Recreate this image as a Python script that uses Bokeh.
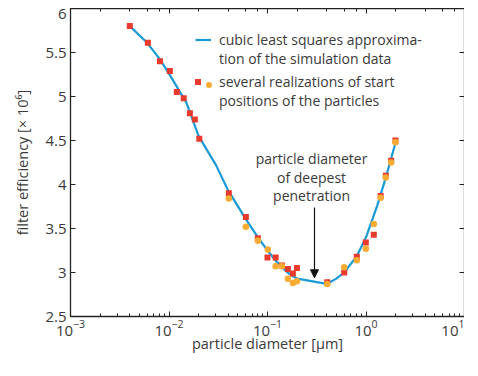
from bokeh.plotting import figure
from bokeh.models import (LogAxis, LinearAxis, Legend, LegendItem, Label, Arrow,
                          NormalHead, Range1d, SingleIntervalTicker, CustomJSTickFormatter,
                          CustomLabelingPolicy)
from bokeh.embed import file_html
from bokeh.resources import INLINE

# ---- data ----
fit_x = [0.004, 0.006, 0.008, 0.01, 0.015, 0.02, 0.03, 0.04, 0.06, 0.08, 0.1, 0.12,
         0.14, 0.16, 0.18, 0.2, 0.4, 0.5, 0.6, 0.8, 1.0, 1.3, 1.6, 2.0]
fit_y = [5.80, 5.61, 5.43, 5.26, 4.93, 4.55, 4.22, 3.93, 3.61, 3.40, 3.25, 3.14,
         3.06, 3.00, 2.96, 2.93, 2.87, 2.93, 3.00, 3.18, 3.40, 3.76, 4.09, 4.48]

sq_x = [0.0040, 0.0061, 0.0081, 0.0102, 0.0120, 0.0141, 0.0163, 0.0183, 0.0203,
        0.0405, 0.0603, 0.0798, 0.100, 0.121, 0.140, 0.161, 0.181, 0.199,
        0.404, 0.601, 0.807, 0.996, 1.20, 1.41, 1.59, 1.80, 1.99]
sq_y = [5.80, 5.61, 5.40, 5.29, 5.05, 4.98, 4.81, 4.74, 4.52,
        3.90, 3.63, 3.39, 3.17, 3.17, 3.08, 3.04, 2.99, 3.05,
        2.89, 3.00, 3.18, 3.34, 3.43, 3.87, 4.10, 4.27, 4.50]

ci_x = [0.0405, 0.0603, 0.0798, 0.1007, 0.121, 0.140, 0.161, 0.181, 0.199,
        0.404, 0.601, 0.807, 0.996, 1.20, 1.41, 1.59, 1.80, 1.99]
ci_y = [3.84, 3.52, 3.36, 3.26, 3.07, 3.07, 2.93, 2.88, 2.90,
        2.87, 3.06, 3.14, 3.27, 3.55, 3.85, 4.08, 4.25, 4.48]

x_label = "particle diameter [μm]"
y_label = "filter efficiency [× 10⁶]"
fit_label = ["cubic least squares approxima-", "tion of the simulation data"]
pts_label = ["several realizations of start", "positions of the particles"]
note_text = "particle diameter\nof deepest\npenetration"

BLUE = "#1a9ad6"
RED = "#ea3a2e"
ORANGE = "#f9ab33"
TXT = "#3a3a3a"
FONT = "Open Sans"

FH = 308
p = figure(x_axis_type="log", x_range=Range1d(1e-3, 10), y_range=Range1d(2.5, 6),
           frame_width=394, frame_height=FH, output_backend="svg",
           toolbar_location=None, min_border=0)
p.margin = (8, 0, 0, 10)
p.grid.visible = False
p.outline_line_color = None
p.background_fill_color = "white"

line_r = p.line(fit_x, fit_y, line_color=BLUE, line_width=2.2)
sq_r = p.scatter(sq_x, sq_y, marker="square", size=6, fill_color=RED, line_color=None)
ci_r = p.scatter(ci_x, ci_y, marker="circle", size=6.5, fill_color=ORANGE, line_color=None)
# invisible renderer used only for continuation lines in the legends
blank_r = p.line([], [], line_alpha=0)

blank_fmt = CustomJSTickFormatter(code="return ''")
no_labels = CustomLabelingPolicy(code="return new Set()")

def style(ax, labels=True):
    ax.axis_line_color = "#222222"
    ax.axis_line_width = 1.3
    ax.major_tick_line_color = "#222222"
    ax.minor_tick_line_color = "#222222"
    ax.major_tick_in = 5
    ax.major_tick_out = 0
    ax.minor_tick_in = 3
    ax.minor_tick_out = 0
    ax.major_label_text_font = FONT
    ax.major_label_text_color = TXT
    ax.major_label_text_font_size = "15px"
    ax.major_label_standoff = 4
    if not labels:
        ax.formatter = blank_fmt
        ax.major_label_policy = no_labels
        ax.major_label_text_color = None
        ax.major_label_text_font_size = "1px"
        ax.major_label_standoff = 0
    ax.axis_label_text_font = FONT
    ax.axis_label_text_font_style = "normal"
    ax.axis_label_text_font_size = "14.5px"
    ax.axis_label_text_color = TXT

yfmt = CustomJSTickFormatter(code="return tick.toString()")

xa = p.xaxis[0]
style(xa)
xa.axis_label = x_label
xa.major_label_standoff = 3
xa.axis_label_standoff = -5

ya = p.yaxis[0]
style(ya)
ya.ticker = SingleIntervalTicker(interval=0.5, num_minor_ticks=0)
ya.formatter = yfmt
ya.axis_label = y_label
ya.axis_label_standoff = 10

top = LogAxis()
style(top, labels=False)
p.add_layout(top, "above")

right = LinearAxis(ticker=SingleIntervalTicker(interval=0.5, num_minor_ticks=0))
style(right, labels=False)
p.add_layout(right, "right")

common = dict(padding=0, margin=0, spacing=0, border_line_color=None,
              background_fill_alpha=0, label_text_font=FONT,
              label_text_font_size="14px", label_text_color=TXT,
              label_text_line_height=1.31)

leg_fit = Legend(items=[LegendItem(label=fit_label[0], renderers=[line_r]),
                        LegendItem(label=fit_label[1], renderers=[blank_r])],
                 location=(125, FH - 60), glyph_width=16, glyph_height=15,
                 label_standoff=8, **common)
leg_pts = Legend(items=[LegendItem(label=pts_label[0], renderers=[sq_r]),
                        LegendItem(label=pts_label[1], renderers=[blank_r])],
                 location=(120, FH - 102), glyph_width=15, glyph_height=15,
                 label_standoff=14, **common)
leg_ci = Legend(items=[LegendItem(label=" ", renderers=[ci_r])],
                location=(131, FH - 84), glyph_width=15, glyph_height=15,
                label_standoff=0, **common)
for lg in (leg_fit, leg_pts, leg_ci):
    p.add_layout(lg, "center")

note = Label(x=0.28, y=4.085, text=note_text, text_align="center", text_baseline="middle",
             text_font=FONT, text_font_size="14px", text_color=TXT, text_line_height=0.98)
p.add_layout(note)

p.add_layout(Arrow(end=NormalHead(size=8, fill_color="#111111", line_color="#111111"),
                   x_start=0.3, y_start=3.74, x_end=0.3, y_end=2.94,
                   line_color="#111111", line_width=1.2))

open("out.html", "w").write(file_html(p, INLINE))
